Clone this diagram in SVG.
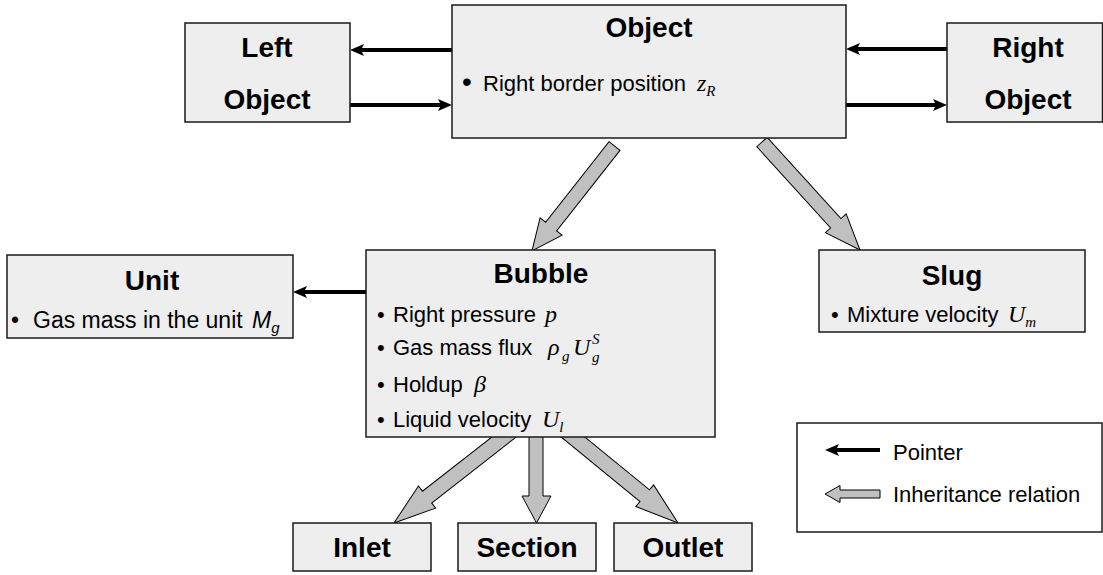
<svg xmlns="http://www.w3.org/2000/svg" width="1103" height="575" viewBox="0 0 1103 575">
<style>
.box{fill:#eeeeee;stroke:#1a1a1a;stroke-width:1.5}
.t{font-family:"Liberation Sans",Arial,sans-serif;font-weight:bold;font-size:28px;fill:#000;text-anchor:middle}
.b{font-family:"Liberation Sans",Arial,sans-serif;font-size:22px;fill:#000}
.m{font-family:"Liberation Serif","Times New Roman",serif;font-style:italic;font-size:24px}
.ms{font-family:"Liberation Serif","Times New Roman",serif;font-style:italic;font-size:15px}
.ptr{stroke:#000;stroke-width:4;fill:none;marker-end:url(#ah)}
.inh{fill:#c0c0c0;stroke:#000;stroke-width:1}
</style>
<defs>
<marker id="ah" markerUnits="userSpaceOnUse" viewBox="0 0 14 12" refX="4" refY="6" markerWidth="14" markerHeight="12" orient="auto">
<path d="M0,0 L14,6 L0,12 L3,6 Z" fill="#000"/>
</marker>
</defs>
<g id="connectors">
<line class="ptr" x1="452" y1="50" x2="360" y2="50"/>
<line class="ptr" x1="350" y1="105" x2="442" y2="105"/>
<line class="ptr" x1="947" y1="49" x2="856" y2="49"/>
<line class="ptr" x1="846" y1="105" x2="937" y2="105"/>
<line class="ptr" x1="366" y1="292" x2="303" y2="292"/>
<polygon class="inh" transform="translate(614.5,146) rotate(128.2)" points="0,-7 102.5,-7 102.5,-14 133.5,0 102.5,14 102.5,7 0,7"/>
<polygon class="inh" transform="translate(762,142) rotate(47.78)" points="0,-7 109.8,-7 109.8,-14 145.8,0 109.8,14 109.8,7 0,7"/>
<polygon class="inh" transform="translate(504,437) rotate(142)" points="-20,-7.5 97.6,-7.5 97.6,-14 139.6,0 97.6,14 97.6,7.5 -20,7.5"/>
<polygon class="inh" points="529,417 543,417 543,496 551,496 536.5,523 522,496 529,496"/>
<polygon class="inh" transform="translate(573,437) rotate(39.3)" points="-20,-7.5 92.7,-7.5 92.7,-14 135.7,0 92.7,14 92.7,7.5 -20,7.5"/>
</g>
<g id="object">
<rect class="box" x="452" y="5" width="394" height="133"/>
<text class="t" x="649" y="37">Object</text>
<text class="b" y="91"><tspan x="462" style="font-size:28px">•</tspan><tspan x="483">Right border position </tspan><tspan class="m" x="697">z</tspan><tspan class="ms" dy="5">R</tspan></text>
</g>
<g id="left-object">
<rect class="box" x="185" y="23" width="165" height="99"/>
<text class="t" x="267" y="57">Left</text>
<text class="t" x="267" y="109">Object</text>
</g>
<g id="right-object">
<rect class="box" x="947" y="23" width="155.5" height="99"/>
<text class="t" x="1028" y="57">Right</text>
<text class="t" x="1028" y="109">Object</text>
</g>
<g id="unit">
<rect class="box" x="7" y="255" width="286" height="83"/>
<text class="t" x="152" y="290">Unit</text>
<text class="b" y="328" style="font-size:23px"><tspan x="11">•</tspan><tspan x="33">Gas mass in the unit </tspan><tspan x="252" style="font-style:italic">M</tspan><tspan style="font-style:italic;font-size:15px" dy="5">g</tspan></text>
</g>
<g id="bubble">
<rect class="box" x="366" y="250" width="349" height="187"/>
<text class="t" x="541" y="283">Bubble</text>
<text class="b" y="322"><tspan x="377">•</tspan><tspan x="393">Right pressure </tspan><tspan class="m" x="545">p</tspan></text>
<text class="b" y="355"><tspan x="377">•</tspan><tspan x="393">Gas mass flux</tspan></text>
<text class="m" x="548" y="355">ρ</text>
<text class="ms" x="562" y="361">g</text>
<text class="m" x="573" y="355">U</text>
<text class="ms" x="592" y="344">S</text>
<text class="ms" x="592" y="362">g</text>
<text class="b" y="392"><tspan x="377">•</tspan><tspan x="393">Holdup</tspan></text>
<text class="m" x="474" y="392">β</text>
<text class="b" y="427"><tspan x="377">•</tspan><tspan x="393">Liquid velocity </tspan><tspan class="m" x="542">U</tspan><tspan class="ms" dy="5">l</tspan></text>
</g>
<g id="slug">
<rect class="box" x="819" y="250" width="266" height="82"/>
<text class="t" x="952" y="285">Slug</text>
<text class="b" y="322"><tspan x="831">•</tspan><tspan x="847">Mixture velocity </tspan><tspan class="m" x="1008">U</tspan><tspan class="ms" dy="5">m</tspan></text>
</g>
<g id="inlet">
<rect class="box" x="293" y="523" width="138" height="48"/>
<text class="t" x="362" y="557">Inlet</text>
</g>
<g id="section">
<rect class="box" x="458" y="523" width="138" height="48"/>
<text class="t" x="527" y="557">Section</text>
</g>
<g id="outlet">
<rect class="box" x="614" y="523" width="138" height="48"/>
<text class="t" x="683" y="557">Outlet</text>
</g>
<g id="legend">
<rect x="797" y="423" width="305" height="109" fill="#fff" stroke="#1a1a1a" stroke-width="1.5"/>
<line class="ptr" x1="880" y1="450" x2="835" y2="450"/>
<text class="b" x="893" y="460">Pointer</text>
<polygon class="inh" points="880,490 840,490 840,485.5 825,494 840,502.5 840,498 880,498"/>
<text class="b" x="893" y="502">Inheritance relation</text>
</g>
</svg>
